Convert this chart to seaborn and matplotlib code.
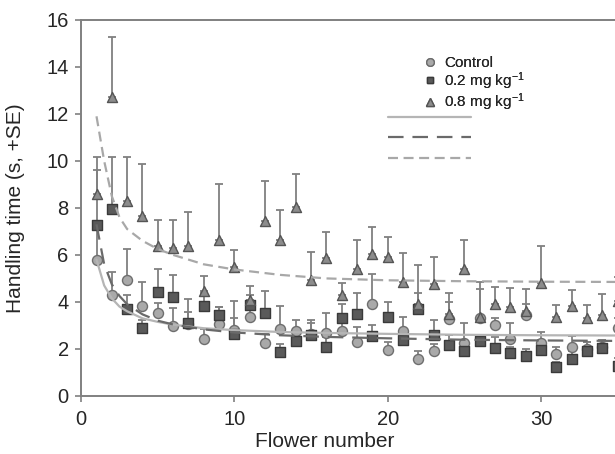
import numpy as np
import pandas as pd
import matplotlib
matplotlib.use("Agg")
import matplotlib.pyplot as plt
import seaborn as sns
from matplotlib.lines import Line2D

# Valeurs
flower = list(range(1, 36))

control_mean = [5.79, 4.31, 4.95, 3.83, 3.51, 2.97, 3.04, 2.41, 3.04, 2.80,
                3.37, 2.27, 2.83, 2.75, 2.65, 2.66, 2.76, 2.31, 3.93, 1.96,
                2.76, 1.56, 1.89, 3.26, 2.27, 3.30, 3.01, 2.41, 3.45, 2.25,
                1.78, 2.10, 2.00, 2.10, 2.91]
control_top = [7.10, 5.27, 6.26, 4.85, 3.95, 3.72, 3.56, 2.83, 3.80, 3.30,
               3.90, 2.62, 3.82, 3.24, 3.10, 3.51, 3.10, 2.94, 5.20, 2.30,
               3.37, 1.90, 2.20, 4.36, 3.09, 4.54, 3.30, 3.09, 3.90, 2.70,
               2.08, 2.55, 2.30, 2.40, 3.30]

low_mean = [7.29, 7.95, 3.68, 2.87, 4.42, 4.19, 3.09, 3.84, 3.44, 2.62,
            3.85, 3.54, 1.85, 2.35, 2.60, 2.10, 3.30, 3.47, 2.53, 3.34,
            2.38, 3.68, 2.59, 2.17, 1.89, 2.35, 2.03, 1.82, 1.70, 1.96,
            1.23, 1.56, 1.93, 2.03, 1.27]
low_top = [9.61, 10.17, 4.28, 3.23, 5.41, 5.13, 4.11, 4.40, 3.79, 4.04,
           4.28, 4.47, 2.20, 2.80, 3.24, 2.52, 3.93, 4.36, 3.00, 4.00,
           2.70, 4.38, 3.23, 2.60, 2.30, 2.60, 2.50, 2.10, 2.00, 2.40,
           1.45, 1.90, 2.30, 2.38, 1.60]

high_mean = [8.58, 12.74, 8.30, 7.67, 6.36, 6.28, 6.36, 4.47, 6.65, 5.48,
             4.07, 7.46, 6.65, 8.02, 4.95, 5.88, 4.28, 5.41, 6.05, 5.90,
             4.85, 3.93, 4.78, 3.50, 5.41, 3.35, 3.93, 3.79, 3.60, 4.80,
             3.37, 3.82, 3.32, 3.44, 4.05]
high_top = [10.16, 15.28, 10.16, 9.88, 7.50, 7.50, 7.81, 5.09, 9.01, 6.23,
            4.68, 9.15, 7.90, 9.43, 6.14, 6.96, 4.82, 6.65, 7.17, 6.78,
            6.07, 5.55, 5.90, 4.00, 6.65, 4.85, 4.63, 4.60, 4.56, 6.36,
            3.86, 4.52, 3.86, 4.32, 5.06]

# Courbes d'ajustement
curve_x = [1, 1.5, 2, 2.5, 3, 4, 5, 6, 8, 10, 13, 16, 20, 25, 30, 35]
control_curve = [5.8, 4.7, 4.15, 3.8, 3.6, 3.3, 3.15, 3.03, 2.88, 2.8,
                 2.72, 2.68, 2.64, 2.6, 2.58, 2.57]
low_curve = [7.3, 5.6, 4.75, 4.25, 3.9, 3.47, 3.2, 3.04, 2.83, 2.7,
             2.58, 2.51, 2.45, 2.39, 2.36, 2.34]
high_curve = [11.9, 10.0, 8.5, 7.6, 7.1, 6.6, 6.25, 6.0, 5.6, 5.38,
              5.15, 5.0, 4.92, 4.88, 4.86, 4.85]

labels = ['Control', '0.2 mg kg$^{\\mathregular{-1}}$', '0.8 mg kg$^{\\mathregular{-1}}$']

sns.set_style("ticks")
plt.rcParams['font.family'] = ['Liberation Sans', 'DejaVu Sans']
plt.rcParams['mathtext.fontset'] = 'custom'
plt.rcParams['mathtext.rm'] = 'Liberation Sans'
plt.rcParams['mathtext.it'] = 'Liberation Sans:italic'

fig = plt.figure(figsize=(6.15, 4.54), dpi=100)
ax = fig.add_axes([0.132, 0.128, 0.868, 0.828])

series = [
    (control_mean, control_top, 'o', '#a9a9a9', '#6e6e6e', 52),
    (low_mean, low_top, 's', '#5a5a5a', '#3a3a3a', 44),
    (high_mean, high_top, '^', '#8c8c8c', '#555555', 52),
]

for mean, top, marker, fill, edge, size in series:
    mean = np.array(mean)
    se = np.array(top) - mean
    ax.errorbar(flower, mean, yerr=[np.zeros_like(se), se], fmt='none',
                ecolor='#808080', elinewidth=1.3, capsize=3.2, capthick=1.3, zorder=2)
    sns.scatterplot(x=flower, y=mean, marker=marker, color=fill, edgecolor=edge,
                    linewidth=1.0, s=size, ax=ax, zorder=3)

# Courbes
sns.lineplot(x=curve_x, y=control_curve, color='#b5b5b5', linewidth=1.6, ax=ax, zorder=4)
sns.lineplot(x=curve_x, y=low_curve, color='#6a6a6a', linewidth=1.6,
             linestyle=(0, (7, 4)), ax=ax, zorder=4)
sns.lineplot(x=curve_x, y=high_curve, color='#a8a8a8', linewidth=1.6,
             linestyle=(0, (4.5, 2.5)), ax=ax, zorder=4)

ax.set_xlim(0, 34.83)
ax.set_ylim(0, 16)
ax.set_xticks([0, 10, 20, 30])
ax.set_yticks(range(0, 17, 2))
ax.set_xlabel('Flower number', fontsize=15)
ax.set_ylabel('Handling time (s, +SE)', fontsize=15)
ax.xaxis.set_label_coords(0.457, -0.095)
ax.yaxis.set_label_coords(-0.105, 0.5)
ax.tick_params(labelsize=14.5, length=4, width=1.2, color='#808080')
ax.tick_params(axis='x', pad=6)
ax.tick_params(axis='y', pad=5)
for side in ['left', 'bottom', 'top']:
    ax.spines[side].set_color('#808080')
    ax.spines[side].set_linewidth(1.4)
ax.spines['right'].set_visible(False)

# Légende des symboles
marker_handles = [
    Line2D([], [], linestyle='none', marker='o', markersize=5.5,
           markerfacecolor='#a9a9a9', markeredgecolor='#6e6e6e'),
    Line2D([], [], linestyle='none', marker='s', markersize=5,
           markerfacecolor='#5a5a5a', markeredgecolor='#3a3a3a'),
    Line2D([], [], linestyle='none', marker='^', markersize=5.5,
           markerfacecolor='#8c8c8c', markeredgecolor='#555555'),
]
leg1 = fig.legend(marker_handles, labels, loc='upper left',
                  bbox_to_anchor=(423 / 615, 1 - 56 / 454), frameon=False,
                  fontsize=11, handlelength=0.9, handletextpad=0.5,
                  labelspacing=0.0, borderpad=0, borderaxespad=0)

# Légende des courbes (sans texte)
line_handles = [
    Line2D([], [], color='#b5b5b5', linewidth=1.6),
    Line2D([], [], color='#6a6a6a', linewidth=1.6, linestyle=(0, (7, 4))),
    Line2D([], [], color='#a8a8a8', linewidth=1.6, linestyle=(0, (4.5, 2.5))),
]
leg2 = fig.legend(line_handles, ['', '', ''], loc='upper left',
                  bbox_to_anchor=(388 / 615, 1 - 111 / 454), frameon=False,
                  fontsize=10, handlelength=6.0, handletextpad=0,
                  labelspacing=0.45, borderpad=0, borderaxespad=0)
fig.add_artist(leg1)

fig.savefig('out.png', dpi=100)
